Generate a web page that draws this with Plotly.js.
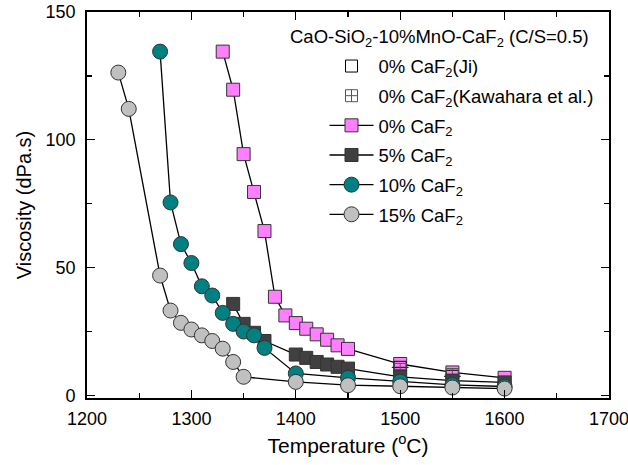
<!DOCTYPE html>
<html>
<head>
<meta charset="utf-8">
<script src="https://cdn.plot.ly/plotly-3.0.1.min.js"></script>
<style>html,body{margin:0;padding:0;background:#fff}#chart{width:628px;height:465px}</style>
</head>
<body>
<div id="chart"></div>
<script>
// ---- data ----
const tempPink = [1330, 1340, 1350, 1360, 1370, 1380, 1390, 1400, 1410, 1420, 1430, 1440, 1450, 1500, 1550, 1600];
const viscPink = [134.5, 119.6, 94.4, 79.6, 64.3, 38.6, 31.3, 28.3, 26.1, 23.9, 21.8, 19.6, 18.2, 12.3, 9.0, 6.9];

const tempDark = [1340, 1350, 1360, 1370, 1400, 1410, 1420, 1430, 1440, 1450, 1500, 1550, 1600];
const viscDark = [35.8, 28.0, 24.5, 21.3, 16.0, 14.7, 13.1, 12.1, 11.2, 10.5, 7.3, 5.8, 5.1];

const tempTeal = [1270, 1280, 1290, 1300, 1310, 1320, 1330, 1340, 1350, 1360, 1370, 1400, 1450, 1500, 1550, 1600];
const viscTeal = [134.5, 75.5, 59.2, 51.8, 42.7, 39.1, 32.3, 28.0, 25.0, 23.5, 18.6, 8.6, 6.9, 5.4, 4.1, 3.5];

const tempGrey = [1230, 1240, 1270, 1280, 1290, 1300, 1310, 1320, 1330, 1340, 1350, 1400, 1450, 1500, 1550, 1600];
const viscGrey = [126.3, 112.1, 46.9, 33.2, 28.4, 25.8, 23.5, 21.3, 18.3, 13.1, 7.3, 5.3, 4.0, 3.6, 3.1, 2.7];

const tempJi = [1500, 1550];
const viscJi = [11.0, 7.5];

const tempKaw = [1500, 1550];
const viscKaw = [10.2, 8.2];

const xTickVals = [1200, 1300, 1400, 1500, 1600, 1700];
const yTickVals = [0, 50, 100, 150];

const namePink = '0% CaF<sub>2</sub>';
const nameDark = '5% CaF<sub>2</sub>';
const nameTeal = '10% CaF<sub>2</sub>';
const nameGrey = '15% CaF<sub>2</sub>';
const nameJi = '0% CaF<sub>2</sub>(Ji)';
const nameKaw = '0% CaF<sub>2</sub>(Kawahara et al.)';
const legendTitle = 'CaO-SiO<sub>2</sub>-10%MnO-CaF<sub>2</sub> (C/S=0.5)';

// ---- traces ----
const FONT = 'Arial, "Liberation Sans", sans-serif';
const lineStyle = {color: '#000', width: 1.3};

function series(x, y, name, symbol, fill, size, rank) {
  return {
    x: x, y: y, name: name, type: 'scatter', mode: 'lines+markers',
    line: lineStyle,
    marker: {symbol: symbol, size: size, color: fill, line: {color: '#333', width: 1}},
    legendgroup: name, legendrank: rank
  };
}

const traces = [
  series(tempPink, viscPink, namePink, 'square', '#FF80FF', 13, 3),
  {x: tempJi, y: viscJi, name: nameJi, type: 'scatter', mode: 'markers',
   marker: {symbol: 'square-open', size: 12, color: '#000', line: {width: 1}},
   legendgroup: 'ji', legendrank: 1},
  {x: tempJi, y: viscJi, name: nameJi, type: 'scatter', mode: 'markers', showlegend: false,
   marker: {symbol: 'line-ew-open', size: 12, color: '#000', line: {width: 1, color: '#000'}},
   legendgroup: 'ji'},
  {x: tempKaw, y: viscKaw, name: nameKaw, type: 'scatter', mode: 'markers',
   marker: {symbol: 'square-cross-open', size: 12, color: '#555', line: {width: 1}},
   legendgroup: 'kaw', legendrank: 2},
  series(tempDark, viscDark, nameDark, 'square', '#404040', 13, 4),
  series(tempTeal, viscTeal, nameTeal, 'circle', '#008080', 15, 5),
  series(tempGrey, viscGrey, nameGrey, 'circle', '#C0C0C0', 15, 6)
];

const layout = {
  width: 628, height: 465,
  margin: {l: 87, r: 19, t: 12, b: 67, pad: 0},
  paper_bgcolor: '#fff', plot_bgcolor: '#fff',
  font: {family: FONT, size: 18, color: '#000'},
  showlegend: true,
  legend: {
    x: 0.455, y: 0.908, xanchor: 'left', yanchor: 'top',
    bgcolor: 'rgba(0,0,0,0)', borderwidth: 0,
    font: {family: FONT, size: 18.5, color: '#000'},
    traceorder: 'grouped', tracegroupgap: 2.6, itemwidth: 44
  },
  annotations: [{
    text: legendTitle, xref: 'paper', yref: 'paper', x: 0.675, y: 0.968,
    xanchor: 'center', yanchor: 'top', showarrow: false,
    font: {family: FONT, size: 18.5, color: '#000'}
  }],
  xaxis: {
    range: [1200, 1700], tickvals: xTickVals, ticktext: xTickVals.map(String),
    ticks: 'inside', ticklen: 8, tickwidth: 1.3, tickcolor: '#000',
    minor: {dtick: 50, ticks: 'inside', ticklen: 5, tickwidth: 1.3, tickcolor: '#000'},
    showline: true, linecolor: '#000', linewidth: 1.8, mirror: 'allticks',
    showgrid: false, zeroline: false, ticklabeloverflow: 'allow',
    tickfont: {family: FONT, size: 18}, ticklabelstandoff: 4,
    title: {text: 'Temperature (<sup>o</sup>C)', font: {family: FONT, size: 21}, standoff: 10}
  },
  yaxis: {
    range: [-1, 150], tickvals: yTickVals, ticktext: yTickVals.map(String),
    ticks: 'inside', ticklen: 8, tickwidth: 1.3, tickcolor: '#000',
    minor: {dtick: 25, ticks: 'inside', ticklen: 5, tickwidth: 1.3, tickcolor: '#000'},
    showline: true, linecolor: '#000', linewidth: 1.8, mirror: 'allticks',
    showgrid: false, zeroline: false, ticklabeloverflow: 'allow',
    tickfont: {family: FONT, size: 18}, ticklabelstandoff: 6,
    title: {text: 'Viscosity (dPa.s)', font: {family: FONT, size: 20}, standoff: 8}
  }
};

Plotly.newPlot('chart', traces, layout, {displayModeBar: false, staticPlot: true});
</script>
</body>
</html>
